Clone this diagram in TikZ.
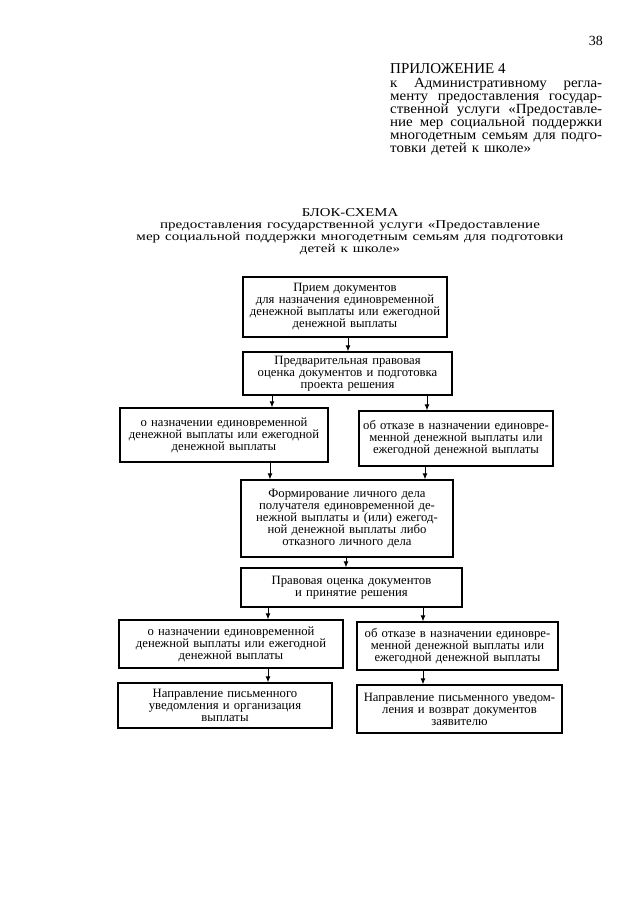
\documentclass[tikz,border=0pt]{standalone}
\usepackage{fontspec}
\setmainfont{Liberation Serif}
\usetikzlibrary{arrows.meta}
\newcommand{\hs}[1]{{\spaceskip=0pt\relax\xspaceskip=0pt\relax\scalebox{1.07}[1]{\makebox[198.1pt][s]{#1}}}}
\newcommand{\ts}[1]{\scalebox{1.255}[1]{#1}}
\newcommand{\tightlines}{\lineskiplimit=-20pt\relax}
\begin{document}
\begin{tikzpicture}[x=1pt,y=-1pt,
  box/.style={draw, line width=1.3pt, inner sep=1pt, align=center,
    font=\fontsize{12.7}{12}\selectfont},
  arr/.style={line width=0.9pt, -{Latex[length=6pt,width=5pt]}}]
\useasboundingbox (0,0) rectangle (640,905);
% header
\node[anchor=base east, inner sep=0pt, font=\fontsize{14}{14}\selectfont] (pg) at (603,45) {38};
\node[anchor=base west, inner sep=0pt, font=\fontsize{15}{15}\selectfont] (h0) at (390,73)
  {ПРИЛОЖЕНИЕ 4};
\node[anchor=base west, inner sep=0pt, text width=240pt, align=left,
  font=\fontsize{14}{13}\selectfont] (hd) at (390,87)
  {\tightlines
   \hs{к Административному регла-}\\
   \hs{менту предоставления государ-}\\
   \hs{ственной услуги «Предоставле-}\\
   \hs{ние мер социальной поддержки}\\
   \hs{многодетным семьям для подго-}\\
   \scalebox{1.07}[1]{товки детей к школе»}};
% title
\node[anchor=base, inner sep=0pt, text width=500pt, align=center,
  font=\fontsize{12}{12}\selectfont] (tt) at (350,216)
  {\tightlines
   \scalebox{1.23}[1]{БЛОК-СХЕМА}\\
   \ts{предоставления государственной услуги «Предоставление}\\
   \ts{мер социальной поддержки многодетным семьям для подготовки}\\
   \ts{детей к школе»}};
% boxes
\node[box, minimum width=204pt, minimum height=60pt, text width=198pt] (b1) at (345,307)
  {\tightlines Прием документов\\ для назначения единовременной\\ денежной выплаты или ежегодной\\ денежной выплаты};
\node[box, minimum width=209pt, minimum height=43pt, text width=203pt] (b2) at (347.5,373.5)
  {\tightlines Предварительная правовая\\ оценка документов и подготовка\\ проекта решения};
\node[box, minimum width=208pt, minimum height=54pt, text width=202pt] (b3l) at (224,435)
  {\tightlines о назначении единовременной\\ денежной выплаты или ежегодной\\ денежной выплаты};
\node[box, minimum width=194pt, minimum height=55pt, text width=190pt] (b3r) at (456,438.5)
  {\tightlines об отказе в назначении единовре-\\ менной денежной выплаты или\\ ежегодной денежной выплаты};
\node[box, minimum width=212pt, minimum height=77pt, text width=206pt] (b4) at (347,518.5)
  {\tightlines Формирование личного дела\\ получателя единовременной де-\\ нежной выплаты и (или) ежегод-\\ ной денежной выплаты либо\\ отказного личного дела};
\node[box, minimum width=221pt, minimum height=39pt, text width=215pt] (b5) at (351.5,587.5)
  {\tightlines Правовая оценка документов\\ и принятие решения};
\node[box, minimum width=224pt, minimum height=48pt, text width=218pt] (b6l) at (231,644)
  {\tightlines о назначении единовременной\\ денежной выплаты или ежегодной\\ денежной выплаты};
\node[box, minimum width=201pt, minimum height=48pt, text width=197pt] (b6r) at (457.5,646)
  {\tightlines об отказе в назначении единовре-\\ менной денежной выплаты или\\ ежегодной денежной выплаты};
\node[box, minimum width=214pt, minimum height=45pt, text width=208pt] (b7l) at (225,705.5)
  {\tightlines Направление письменного\\ уведомления и организация\\ выплаты};
\node[box, minimum width=205pt, minimum height=48pt, text width=201pt] (b7r) at (459.5,709)
  {\tightlines Направление письменного уведом-\\ ления и возврат документов\\ заявителю};
% arrow columns
\coordinate (xa) at (348,0);
\coordinate (xb) at (272,0);
\coordinate (xc) at (427,0);
\coordinate (xd) at (270,0);
\coordinate (xe) at (425,0);
\coordinate (xf) at (346,0);
\coordinate (xg) at (268,0);
\coordinate (xh) at (423,0);
\draw[arr] (b1.south -| xa) -- (b2.north -| xa);
\draw[arr] (b2.south -| xb) -- (b3l.north -| xb);
\draw[arr] (b2.south -| xc) -- (b3r.north -| xc);
\draw[arr] (b3l.south -| xd) -- (b4.north -| xd);
\draw[arr] (b3r.south -| xe) -- (b4.north -| xe);
\draw[arr] (b4.south -| xf) -- (b5.north -| xf);
\draw[arr] (b5.south -| xg) -- (b6l.north -| xg);
\draw[arr] (b5.south -| xh) -- (b6r.north -| xh);
\draw[arr] (b6l.south -| xg) -- (b7l.north -| xg);
\draw[arr] (b6r.south -| xh) -- (b7r.north -| xh);
\end{tikzpicture}
\end{document}
